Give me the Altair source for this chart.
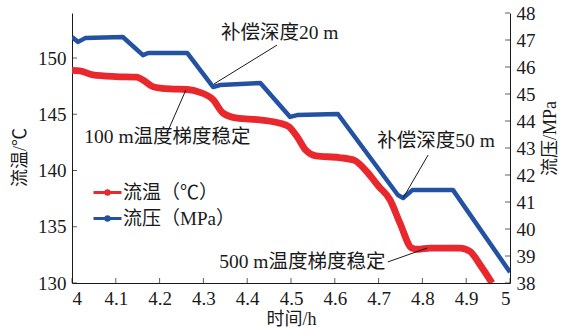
import altair as alt
import pandas as pd

# Flowing temperature (°C) vs. time (h)
temp_time = [4.000, 4.018, 4.048, 4.100, 4.148, 4.162, 4.185, 4.224, 4.263, 4.292,
             4.322, 4.345, 4.377, 4.429, 4.475, 4.495, 4.514, 4.534, 4.557, 4.610,
             4.645, 4.673, 4.700, 4.726, 4.749, 4.776, 4.790, 4.817, 4.886, 4.909,
             4.932, 4.959]
temp_val = [148.9, 148.85, 148.5, 148.35, 148.3, 148.05, 147.45, 147.25, 147.2, 146.95,
            146.3, 145.1, 144.65, 144.5, 144.2, 143.9, 143.0, 141.8, 141.3, 141.15,
            140.9, 139.9, 138.6, 137.4, 135.3, 133.1, 133.0, 133.1, 133.1, 132.8,
            131.6, 130.0]

# Flowing pressure (MPa) vs. time (h)
press_time = [4.000, 4.014, 4.030, 4.116, 4.162, 4.174, 4.263, 4.322, 4.338, 4.430,
              4.498, 4.514, 4.607, 4.744, 4.756, 4.777, 4.870, 5.000]
press_val = [47.11, 46.93, 47.07, 47.11, 46.44, 46.52, 46.52, 45.26, 45.33, 45.41,
             44.15, 44.22, 44.26, 41.26, 41.15, 41.44, 41.44, 38.40]

series_names = ["流温（℃）", "流压（MPa）"]
series_colors = ["#e8282c", "#2352a3"]

x_ticks = [4.0, 4.1, 4.2, 4.3, 4.4, 4.5, 4.6, 4.7, 4.8, 4.9, 5.0]
temp_ticks = [130, 135, 140, 145, 150]
press_ticks = [38, 39, 40, 41, 42, 43, 44, 45, 46, 47, 48]

# Annotations on the temperature scale: text anchor, leader start, leader end
temp_notes = ["100 m温度梯度稳定", "500 m温度梯度稳定"]
temp_note_t = [4.028, 4.336]
temp_note_v = [142.98, 131.87]
temp_lead_t = [4.217, 4.721]
temp_lead_v = [143.33, 131.87]
temp_lead_t2 = [4.260, 4.811]
temp_lead_v2 = [147.16, 133.11]

# Annotations on the pressure scale
press_notes = ["补偿深度20 m", "补偿深度50 m"]
press_note_t = [4.340, 4.697]
press_note_v = [47.26, 43.26]
press_lead_t = [4.468, 4.813]
press_lead_v = [46.81, 42.74]
press_lead_t2 = [4.324, 4.756]
press_lead_v2 = [45.37, 41.15]

FONT = "Liberation Serif, Noto Sans CJK SC"
INK = "#1a1a1a"

temp_df = pd.DataFrame({"t": temp_time, "v": temp_val, "series": series_names[0]})
press_df = pd.DataFrame({"t": press_time, "v": press_val, "series": series_names[1]})

x_scale = alt.Scale(domain=[4, 5], nice=False, zero=False)
temp_scale = alt.Scale(domain=[130, 154], nice=False, zero=False)
press_scale = alt.Scale(domain=[38, 48], nice=False, zero=False)

color = alt.Color(
    "series:N",
    scale=alt.Scale(domain=series_names, range=series_colors),
    legend=alt.Legend(
        title=None,
        orient="none",
        legendX=20,
        legendY=164,
        symbolType="M-1,0H1M0.12,0A0.12,0.12,0,1,1,-0.12,0A0.12,0.12,0,1,1,0.12,0Z",
        symbolSize=784,
        symbolStrokeWidth=3,
        labelFont=FONT,
        labelFontSize=19,
        labelColor=INK,
        labelOffset=0,
        rowPadding=-5,
        padding=0,
    ),
)

axis_style = dict(
    grid=False,
    ticks=False,
    tickSize=0,
    domainColor=INK,
    domainWidth=1,
    labelFont=FONT,
    labelFontSize=19,
    labelColor=INK,
    labelPadding=6,
    labelOverlap=False,
    titleFont=FONT,
    titleFontSize=18,
    titleFontWeight="normal",
    titleColor=INK,
)

x_axis = alt.Axis(values=x_ticks, format=".1~f", title="时间/h",
                  titleX=219, titleY=36, titleBaseline="middle", **axis_style)
temp_axis = alt.Axis(values=temp_ticks, title="流温/℃", titleAngle=270,
                     titleX=-52, titleY=144, titleBaseline="middle", **axis_style)
press_axis = alt.Axis(values=press_ticks, orient="right", title="流压/MPa",
                      titleAngle=270, titleX=40, titleY=125,
                      titleBaseline="middle", **axis_style)


def xq(field):
    return alt.X(field, type="quantitative", scale=x_scale, axis=x_axis)


def yt(field):
    return alt.Y(field, type="quantitative", scale=temp_scale, axis=temp_axis)


def yp(field):
    return alt.Y(field, type="quantitative", scale=press_scale, axis=press_axis)


temp_line = alt.Chart(temp_df).mark_line(
    strokeWidth=6.8, interpolate="monotone", clip=True
).encode(x=xq("t"), y=yt("v"), color=color)

press_line = alt.Chart(press_df).mark_line(
    strokeWidth=4.5, strokeJoin="round", clip=True
).encode(x=xq("t"), y=yp("v"), color=color)

# Inward tick marks along the three axis lines
left_ticks = alt.Chart(pd.DataFrame({"v": temp_ticks})).mark_tick(
    orient="horizontal", size=5, thickness=1, xOffset=2.5, color=INK
).encode(x=alt.datum(4), y=yt("v"))

bottom_ticks = alt.Chart(pd.DataFrame({"t": x_ticks})).mark_tick(
    orient="vertical", size=5, thickness=1, yOffset=-2.5, color=INK
).encode(x=xq("t"), y=alt.datum(130))

right_ticks = alt.Chart(pd.DataFrame({"v": press_ticks})).mark_tick(
    orient="horizontal", size=5, thickness=1, xOffset=-2.5, color=INK
).encode(x=alt.datum(5), y=yp("v"))

temp_note_df = pd.DataFrame({
    "label": temp_notes, "t": temp_note_t, "v": temp_note_v,
    "lt": temp_lead_t, "lv": temp_lead_v, "lt2": temp_lead_t2, "lv2": temp_lead_v2,
})
press_note_df = pd.DataFrame({
    "label": press_notes, "t": press_note_t, "v": press_note_v,
    "lt": press_lead_t, "lv": press_lead_v, "lt2": press_lead_t2, "lv2": press_lead_v2,
})

temp_text = alt.Chart(temp_note_df).mark_text(
    align="left", baseline="middle", font=FONT, fontSize=19.5, color=INK
).encode(x=xq("t"), y=yt("v"), text="label:N")

temp_lead = alt.Chart(temp_note_df).mark_rule(color=INK, strokeWidth=1).encode(
    x=xq("lt"), y=yt("lv"), x2="lt2:Q", y2="lv2:Q",
)

press_text = alt.Chart(press_note_df).mark_text(
    align="left", baseline="middle", font=FONT, fontSize=19.5, color=INK
).encode(x=xq("t"), y=yp("v"), text="label:N")

press_lead = alt.Chart(press_note_df).mark_rule(color=INK, strokeWidth=1).encode(
    x=xq("lt"), y=yp("lv"), x2="lt2:Q", y2="lv2:Q",
)

temp_layer = alt.layer(temp_line, temp_lead, temp_text, left_ticks, bottom_ticks)
press_layer = alt.layer(press_line, press_lead, press_text, right_ticks)

chart = (
    alt.layer(temp_layer, press_layer)
    .resolve_scale(y="independent")
    .properties(
        width=438,
        height=270,
        background="white",
        autosize=alt.AutoSizeParams(type="none"),
        padding={"left": 72, "top": 13, "right": 51, "bottom": 44},
    )
    .configure_view(stroke=None)
    .configure_axis(**axis_style)
)

chart.save("out.html", embed_options={"renderer": "svg", "actions": False})
